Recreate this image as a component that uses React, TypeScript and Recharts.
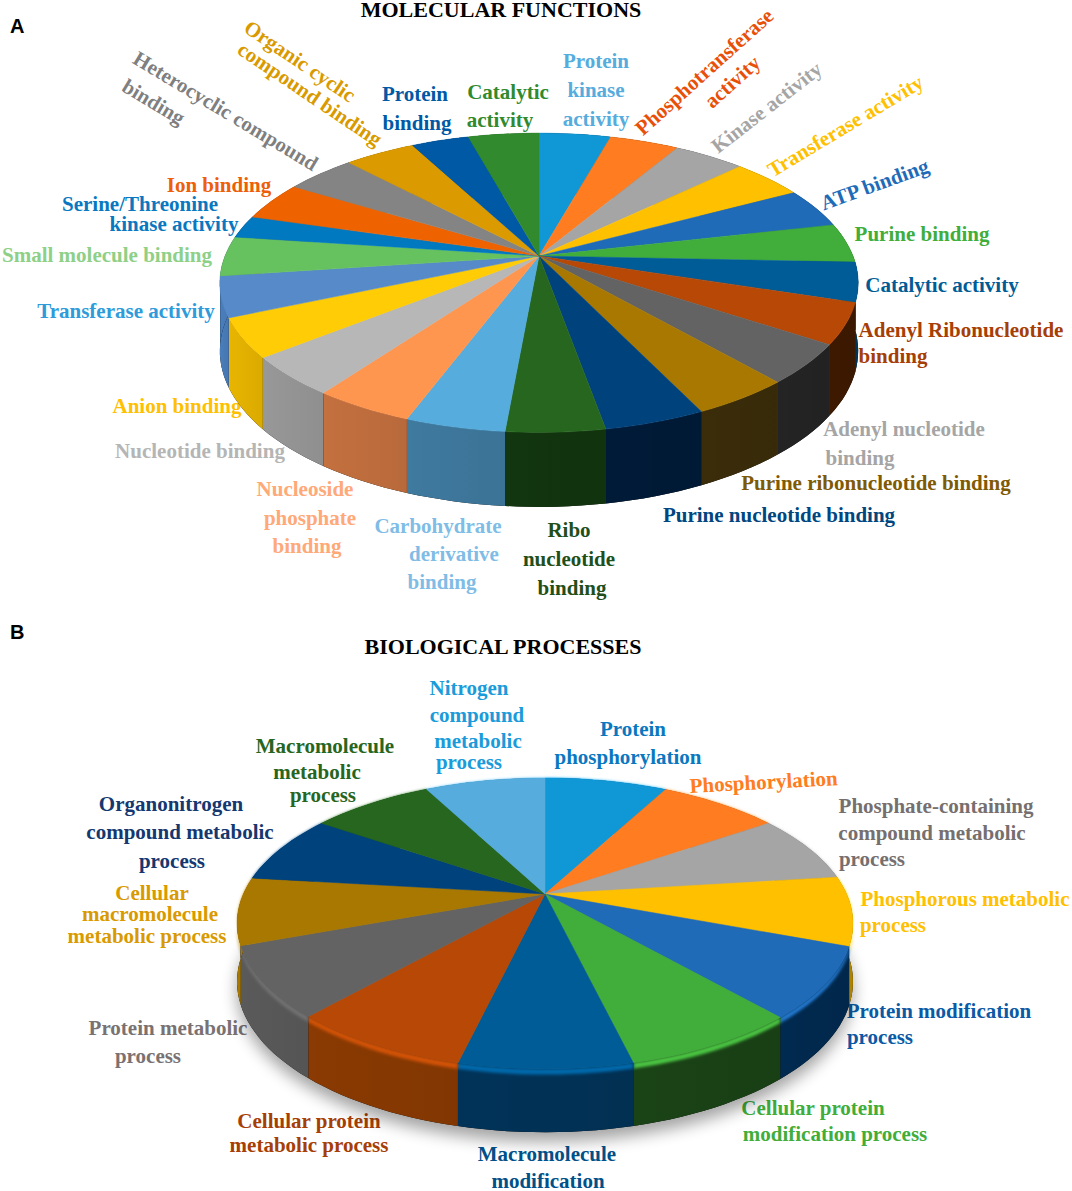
import React from 'react';
import { PieChart, Pie } from 'recharts';

// molecular functions, clockwise from 12 o'clock
const mfNames = [
  'Protein kinase activity', 'Phosphotransferase activity', 'Kinase activity', 'Transferase activity',
  'ATP binding', 'Purine binding', 'Catalytic activity', 'Adenyl Ribonucleotide binding',
  'Adenyl nucleotide binding', 'Purine ribonucleotide binding', 'Purine nucleotide binding', 'Ribo nucleotide binding',
  'Carbohydrate derivative binding', 'Nucleoside phosphate binding', 'Nucleotide binding', 'Anion binding',
  'Transferase activity', 'Small molecule binding', 'Serine/Threonine kinase activity', 'Ion binding',
  'Heterocyclic compound binding', 'Organic cyclic compound binding', 'Protein binding', 'Catalytic activity',
];
const mfValues = [15.5, 15, 15.5, 15.7, 15.4, 15.3, 15.3, 15.8, 15.4, 15.4, 15.6, 15.2, 15.4, 15.5, 15.4, 15.2, 15.7, 15.4, 8.8, 15, 15.3, 15.4, 12.5, 15.3];
const mfColors = [
  '#1097d5', '#ff7c20', '#a5a5a5', '#ffc000', '#1f6bb8', '#41ad3a', '#005c96', '#b74806',
  '#636363', '#a87800', '#00427c', '#26661f', '#55acdd', '#ff9650', '#b7b7b7', '#ffcc05',
  '#578ac8', '#66c25e', '#0079c1', '#ef6200', '#848484', '#db9a00', '#0059a5', '#318a2e',
];
const mfWalls = [
  '#0a5f85', '#9c4c14', '#666666', '#9c7600', '#133f6e', '#286a24', '#00365a', '#3e1900',
  '#242424', '#3b2d0a', '#001b38', '#12360f', '#3f7a9f', '#c4703f', '#989898', '#e8b500',
  '#4a7ebb', '#4a7ebb', '#006aa8', '#d85800', '#767676', '#c48a00', '#004f92', '#2a7a28',
];

// biological processes, clockwise from 12 o'clock
const bpNames = [
  'Protein phosphorylation', 'Phosphorylation', 'Phosphate-containing compound metabolic process',
  'Phosphorous metabolic process', 'Protein modification process', 'Cellular protein modification process',
  'Macromolecule modification', 'Cellular protein metabolic process', 'Protein metabolic process',
  'Cellular macromolecule metabolic process', 'Organonitrogen compound metabolic process',
  'Macromolecule metabolic process', 'Nitrogen compound metabolic process',
];
const bpValues = [28.1, 27.5, 27.3, 27.6, 28.1, 27.8, 27, 28.4, 28, 26.9, 27.7, 28, 27.6];
const bpColors = [
  '#1097d5', '#ff7c20', '#a5a5a5', '#ffc000', '#1f6bb8', '#41ad3a', '#005c96',
  '#b74806', '#636363', '#a87800', '#00427c', '#26661f', '#55acdd',
];
const bpWalls = [
  '#0a5f85', '#9c4c14', '#666666', '#b88a00', '#012a50', '#1a4316', '#013358',
  '#8a3a02', '#5a5a5a', '#a87800', '#002a50', '#1a4a15', '#3f7a9f',
];

const mfRows = mfNames.map((name, i) => ({ name, value: mfValues[i], fill: mfColors[i], wall: mfWalls[i] }));
const bpRows = bpNames.map((name, i) => ({ name, value: bpValues[i], fill: bpColors[i], wall: bpWalls[i] }));
const wholeDisc = [{ name: 'disc', value: 1 }];

const SERIF = '"Liberation Serif", serif';

// text, colour, then x / baseline y per line, rotation last
const labels: [string[], string, number[][], number?][] = [
  [['Catalytic', 'activity'], '#318a2e', [[508, 99], [500, 127]]],
  [['Protein', 'kinase', 'activity'], '#55acdd', [[596, 68], [596, 97], [596, 126]]],
  [['Protein', 'binding'], '#0059a5', [[415, 101], [417, 130]]],
  [['Phosphotransferase', 'activity'], '#e8500a', [[709, 77], [737, 87]], -42],
  [['Kinase activity'], '#a5a5a5', [[771, 113]], -38],
  [['Transferase activity'], '#ffc000', [[849, 132]], -31],
  [['ATP binding'], '#1f6bb8', [[877, 191]], -20],
  [['Purine binding'], '#41ad3a', [[922, 241]]],
  [['Catalytic activity'], '#005c96', [[942, 292]]],
  [['Adenyl Ribonucleotide', 'binding'], '#a63e05', [[961, 337], [893, 363]]],
  [['Adenyl nucleotide', 'binding'], '#a5a5a5', [[904, 436], [860, 465]]],
  [['Purine ribonucleotide binding'], '#7f5a05', [[876, 490]]],
  [['Purine nucleotide binding'], '#00467f', [[779, 522]]],
  [['Ribo', 'nucleotide', 'binding'], '#1f4f1a', [[569, 537], [569, 566], [572, 595]]],
  [['Carbohydrate', 'derivative', 'binding'], '#7fbce6', [[438, 533], [454, 561], [442, 589]]],
  [['Nucleoside', 'phosphate', 'binding'], '#ffa878', [[305, 496], [310, 525], [307, 553]]],
  [['Nucleotide binding'], '#b5b5b5', [[200, 458]]],
  [['Anion binding'], '#ffc000', [[177, 413]]],
  [['Transferase activity'], '#2e9bdb', [[126, 318]]],
  [['Small molecule binding'], '#8ed087', [[107, 262]]],
  [['Serine/Threonine', 'kinase activity'], '#0a78c0', [[140, 211], [174, 231]]],
  [['Ion binding'], '#ed5f0a', [[219, 192]]],
  [['Heterocyclic compound', 'binding'], '#7f7f7f', [[222, 117], [150, 108]], 31],
  [['Organic cyclic', 'compound binding'], '#d99a00', [[296, 67], [306, 100]], 34],

  [['Nitrogen', 'compound', 'metabolic', 'process'], '#1a9bda', [[469, 695], [477, 722], [478, 748], [469, 769]]],
  [['Protein', 'phosphorylation'], '#0a78c0', [[633, 736], [628, 764]]],
  [['Phosphorylation'], '#ff7c20', [[764, 789]], -3],
  [['Phosphate-containing', 'compound metabolic', 'process'], '#766f6f', [[936, 813], [932, 840], [872, 866]]],
  [['Phosphorous metabolic', 'process'], '#ffc000', [[965, 906], [893, 932]]],
  [['Protein modification', 'process'], '#0b5aa5', [[939, 1018], [880, 1044]]],
  [['Cellular protein', 'modification process'], '#41ad3a', [[813, 1115], [835, 1141]]],
  [['Macromolecule', 'modification'], '#00518a', [[547, 1161], [548, 1188]]],
  [['Cellular protein', 'metabolic process'], '#a63e05', [[309, 1128], [309, 1152]]],
  [['Protein metabolic', 'process'], '#7a7272', [[168, 1035], [148, 1063]]],
  [['Cellular', 'macromolecule', 'metabolic process'], '#d99a00', [[152, 900], [150, 921], [147, 943]]],
  [['Organonitrogen', 'compound metabolic', 'process'], '#14386f', [[171, 811], [180, 839], [172, 868]]],
  [['Macromolecule', 'metabolic', 'process'], '#26661f', [[325, 753], [317, 779], [323, 802]]],
];

// tilted disc: ratio squashes y, k is the perspective, depth the wall height
const viewA = { ratio: 0.4613, k: 0.179, depth: 67 };
const viewB = { ratio: 0.4625, k: 0.2026, depth: 57 };

const RAD = Math.PI / 180;

function project(p: any, view: any, deg: number, drop = 0) {
  const u = Math.cos(deg * RAD);
  const v = -Math.sin(deg * RAD);
  const w = 1 - view.k * v;
  return {
    x: p.cx + (p.outerRadius * u) / w,
    y: p.cy + (p.outerRadius * view.ratio * v) / w + (drop * view.depth) / (1 - 0.1 * v),
  };
}

function arc(p: any, view: any, drop = 0) {
  const pts = [];
  const n = Math.max(2, Math.ceil(Math.abs(p.endAngle - p.startAngle) / 2));
  for (let i = 0; i <= n; i++) {
    pts.push(project(p, view, p.startAngle + ((p.endAngle - p.startAngle) * i) / n, drop));
  }
  return pts;
}

const toPath = (pts: { x: number; y: number }[]) =>
  pts.map((q, i) => `${i ? 'L' : 'M'}${q.x.toFixed(1)},${q.y.toFixed(1)}`).join(' ') + ' Z';

const makeTop = (view: any) => (p: any) => {
  const pts = arc(p, view);
  const path = `M${p.cx},${p.cy} ` + toPath(pts).replace('M', 'L');
  return <path d={path} fill={p.payload?.fill ?? p.fill} stroke={p.payload?.fill ?? p.fill} strokeWidth={0.5} />;
};

const makeWall = (view: any, id: string, bevel = false) => (p: any) => {
  const top = arc(p, view);
  const bottom = arc(p, view, 1).reverse();
  const wall = p.payload?.wall ?? p.fill;
  const gid = `${id}-${p.index}`;
  return (
    <g>
      <linearGradient id={gid} x1="0" y1="0" x2="1" y2="0">
        <stop offset="0%" stopColor={wall} />
        <stop offset="100%" stopColor={wall} stopOpacity={0.94} />
      </linearGradient>
      <path d={toPath([...top, ...bottom])} fill="#000" />
      <path d={toPath([...top, ...bottom])} fill={`url(#${gid})`} />
      {bevel && (
        <path
          d={toPath([...top, ...arc(p, view, 0.09).reverse()])}
          fill={p.payload?.fill ?? p.fill}
          style={{ filter: 'blur(1.5px) brightness(1.15)' }}
        />
      )}
    </g>
  );
};

const makeShadow = (view: any) => (p: any) => (
  <path d={toPath(arc(p, view, 1.15))} fill="#000" opacity={0.36} style={{ filter: 'blur(8px)' }} />
);

const TopA = makeTop(viewA);
const WallA = makeWall(viewA, 'mf');
const TopB = makeTop(viewB);
const WallB = makeWall(viewB, 'bp', true);
const ShadowB = makeShadow(viewB);

const pieProps = {
  dataKey: 'value',
  nameKey: 'name',
  startAngle: 90,
  endAngle: -270,
  innerRadius: 0,
  stroke: 'none',
  isAnimationActive: false,
  legendType: 'none' as const,
};

const App = () => {
  return (
    <div style={{ position: 'absolute', left: 0, top: 0, width: 1072, height: 1191, background: '#fff' }}>
      <PieChart width={1072} height={1191} margin={{ top: 0, right: 0, bottom: 0, left: 0 }}>
        <Pie {...pieProps} data={mfRows} cx={539} cy={256} outerRadius={314} shape={WallA} />
        <Pie {...pieProps} data={mfRows} cx={539} cy={256} outerRadius={314} shape={TopA} />
        <Pie {...pieProps} data={wholeDisc} cx={545} cy={894} outerRadius={301.6} shape={ShadowB} />
        <Pie {...pieProps} data={bpRows} cx={545} cy={894} outerRadius={301.6} shape={WallB} />
        <Pie {...pieProps} data={bpRows} cx={545} cy={894} outerRadius={301.6} shape={TopB} />
        <text x={501} y={17} textAnchor="middle" fontFamily={SERIF} fontWeight="bold" fontSize={22} fill="#000">MOLECULAR FUNCTIONS</text>
        <text x={503} y={654} textAnchor="middle" fontFamily={SERIF} fontWeight="bold" fontSize={22} fill="#000">BIOLOGICAL PROCESSES</text>
        <text x={10} y={33} fontFamily='"Liberation Sans", sans-serif' fontWeight="bold" fontSize={20} fill="#000">A</text>
        <text x={10} y={639} fontFamily='"Liberation Sans", sans-serif' fontWeight="bold" fontSize={20} fill="#000">B</text>
        {labels.map(([lines, color, at, rotate], i) =>
          lines.map((line, j) => (
            <text
              key={`${i}-${j}`}
              x={at[j][0]}
              y={at[j][1]}
              textAnchor="middle"
              fontFamily={SERIF}
              fontWeight="bold"
              fontSize={21}
              fill={color}
              transform={rotate ? `rotate(${rotate} ${at[j][0]} ${at[j][1]})` : undefined}
            >
              {line}
            </text>
          )),
        )}
      </PieChart>
    </div>
  );
};

export default App;
